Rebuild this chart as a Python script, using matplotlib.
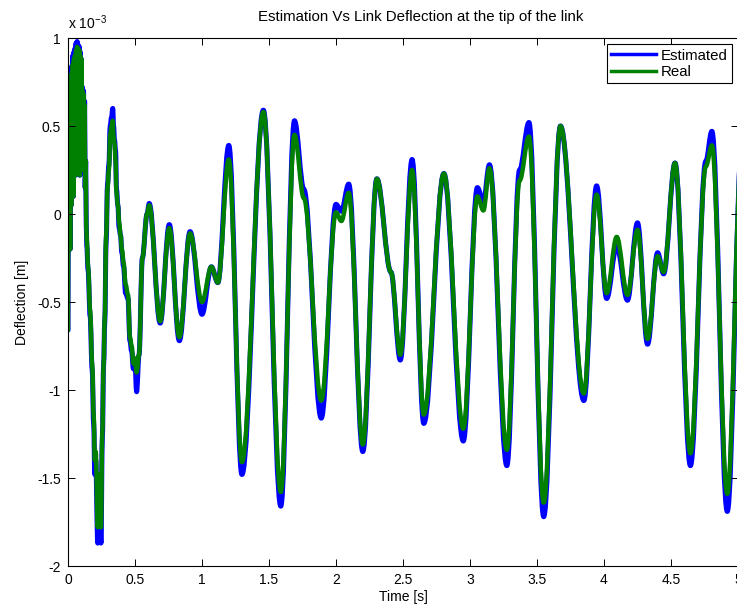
import matplotlib
matplotlib.use("Agg")
import matplotlib.pyplot as plt
from matplotlib.path import Path
from matplotlib.patches import PathPatch
from matplotlib.lines import Line2D
from matplotlib.ticker import FuncFormatter

plt.rcParams['font.family'] = ['Liberation Sans', 'DejaVu Sans']
plt.rcParams['mathtext.fontset'] = 'custom'
plt.rcParams['mathtext.rm'] = 'Liberation Sans'

# turning points of the tip deflection (time in s, deflection in 1e-3 m)
t_key = [0.000, 0.004, 0.008, 0.012, 0.016, 0.020, 0.024, 0.028, 0.032, 0.036,
         0.040, 0.044, 0.048, 0.052, 0.056, 0.060, 0.064, 0.068, 0.072, 0.076,
         0.080, 0.084, 0.088, 0.092, 0.096, 0.100, 0.104, 0.108, 0.112, 0.116,
         0.120, 0.124, 0.128, 0.132, 0.136, 0.140,
         0.150, 0.165, 0.180, 0.192, 0.200, 0.207, 0.222, 0.236, 0.246, 0.256,
         0.266, 0.274, 0.285, 0.295, 0.305, 0.315, 0.325, 0.334, 0.340, 0.347,
         0.355, 0.362, 0.372, 0.382, 0.392, 0.402, 0.415, 0.430, 0.448, 0.462,
         0.475, 0.488, 0.500, 0.512, 0.530, 0.555, 0.590, 0.606, 0.688, 0.756,
         0.831, 0.911, 1.000, 1.070, 1.118, 1.200, 1.298, 1.458, 1.588, 1.690,
         1.760, 1.890, 2.000, 2.040, 2.095, 2.200, 2.305, 2.410, 2.480, 2.568,
         2.655, 2.805, 2.950, 3.055, 3.100, 3.145, 3.275, 3.370, 3.440, 3.550,
         3.675, 3.850, 3.945, 4.020, 4.095, 4.175, 4.250, 4.325, 4.400, 4.445,
         4.530, 4.645, 4.760, 4.805, 4.920, 5.030]

estimated = [-0.66, 0.74, 0.00, 0.76, -0.20, 0.74, 0.05, 0.84, 0.20, 0.90,
             0.10, 0.92, 0.28, 0.94, 0.22, 0.97, 0.35, 0.98, 0.25, 0.96,
             0.40, 0.95, 0.22, 0.92, 0.30, 0.88, 0.28, 0.72, 0.25, 0.70,
             0.42, 0.64, 0.15, 0.30, -0.05, -0.18,
             -0.32, -0.58, -0.88, -1.20, -1.48, -1.40, -1.87, -1.50, -1.87, -1.28,
             -0.85, -0.62, -0.15, 0.17, 0.28, 0.50, 0.55, 0.60, 0.50, 0.42,
             0.36, 0.14, 0.05, -0.08, -0.12, -0.22, -0.30, -0.45, -0.48, -0.72,
             -0.78, -0.88, -0.85, -1.01, -0.80, -0.25, 0.00, 0.06, -0.62, -0.06,
             -0.72, -0.10, -0.57, -0.30, -0.39, 0.39, -1.48, 0.59, -1.66, 0.53,
             0.14, -1.16, 0.055, 0.016, 0.17, -1.35, 0.20, -0.33, -0.83, 0.31,
             -1.19, 0.23, -1.29, 0.15, 0.07, 0.28, -1.43, 0.25, 0.52, -1.72,
             0.50, -1.06, 0.16, -0.48, -0.18, -0.49, -0.05, -0.74, -0.22, -0.34,
             0.29, -1.43, 0.30, 0.47, -1.69, 0.40]

real = [-0.66, 0.70, 0.00, 0.74, -0.20, 0.72, 0.05, 0.80, 0.20, 0.85,
        0.10, 0.88, 0.28, 0.90, 0.22, 0.93, 0.35, 0.95, 0.25, 0.94,
        0.40, 0.93, 0.22, 0.90, 0.30, 0.88, 0.28, 0.70, 0.25, 0.68,
        0.42, 0.62, 0.15, 0.30, -0.05, -0.15,
        -0.30, -0.55, -0.85, -1.15, -1.40, -1.35, -1.78, -1.48, -1.78, -1.25,
        -0.85, -0.60, -0.12, 0.15, 0.25, 0.45, 0.50, 0.53, 0.44, 0.40,
        0.30, 0.12, 0.05, -0.05, -0.12, -0.20, -0.28, -0.40, -0.46, -0.70,
        -0.75, -0.85, -0.82, -0.90, -0.80, -0.25, 0.00, 0.05, -0.61, -0.08,
        -0.70, -0.11, -0.50, -0.30, -0.39, 0.31, -1.41, 0.58, -1.58, 0.45,
        0.09, -1.06, 0.01, -0.04, 0.12, -1.31, 0.20, -0.33, -0.80, 0.25,
        -1.14, 0.23, -1.22, 0.10, 0.02, 0.26, -1.34, 0.19, 0.44, -1.64,
        0.50, -1.02, 0.11, -0.45, -0.13, -0.46, -0.09, -0.71, -0.24, -0.33,
        0.29, -1.36, 0.27, 0.39, -1.59, 0.40]

x_ticks = [0, 0.5, 1, 1.5, 2, 2.5, 3, 3.5, 4, 4.5, 5]
y_ticks = [-2e-3, -1.5e-3, -1e-3, -0.5e-3, 0, 0.5e-3, 1e-3]


def smooth_path(t, v, k=0.36):
    # cubic segments with flat tangents at each turning point
    verts = [(t[0], v[0])]
    codes = [Path.MOVETO]
    for i in range(len(t) - 1):
        dt = t[i + 1] - t[i]
        verts += [(t[i] + k * dt, v[i]), (t[i + 1] - k * dt, v[i + 1]),
                  (t[i + 1], v[i + 1])]
        codes += [Path.CURVE4] * 3
    return Path(verts, codes)


fig = plt.figure(figsize=(7.37, 6.06), dpi=100)
ax = fig.add_axes([68 / 737, 40 / 606, 670 / 737, 528 / 606])

est_m = [v * 1e-3 for v in estimated]
real_m = [v * 1e-3 for v in real]

ax.add_patch(PathPatch(smooth_path(t_key, est_m), facecolor='none',
                       edgecolor=(0, 0, 1), lw=3.6, joinstyle='round',
                       capstyle='round'))
ax.add_patch(PathPatch(smooth_path(t_key, real_m), facecolor='none',
                       edgecolor=(0, 0.5, 0), lw=3.2, joinstyle='round',
                       capstyle='round'))

ax.set_xlim(0, 5)
ax.set_ylim(-2e-3, 1e-3)
ax.set_xticks(x_ticks)
ax.set_yticks(y_ticks)
ax.xaxis.set_major_formatter(FuncFormatter(lambda x, p: f'{x:g}'))
ax.yaxis.set_major_formatter(FuncFormatter(lambda y, p: f'{round(y * 1e3, 2):g}'))
ax.tick_params(direction='in', top=True, right=True, length=5, width=0.7,
               labelsize=10, pad=5)
for s in ax.spines.values():
    s.set_linewidth(0.8)

ax.text(0, 1.012, r'x 10$^{\mathregular{-3}}$', transform=ax.transAxes,
        fontsize=10, ha='left', va='bottom')
fig.text(421 / 737, 1 - 17 / 606,
         'Estimation Vs Link Deflection at the tip of the link',
         fontsize=10.8, ha='center', va='center')
ax.set_xlabel('Time [s]', fontsize=10, labelpad=2)
ax.set_ylabel('Deflection [m]', fontsize=10, labelpad=6)

handles = [Line2D([], [], color=(0, 0, 1), lw=2.5),
           Line2D([], [], color=(0, 0.5, 0), lw=2.5)]
leg = ax.legend(handles, ['Estimated', 'Real'], loc='upper right',
                fancybox=False, framealpha=1, edgecolor='k', fontsize=10.8,
                handlelength=3.0, borderaxespad=0.4, borderpad=0.3,
                labelspacing=0.15, handletextpad=0.3)
leg.get_frame().set_linewidth(0.8)

fig.savefig('out.png', dpi=100)
